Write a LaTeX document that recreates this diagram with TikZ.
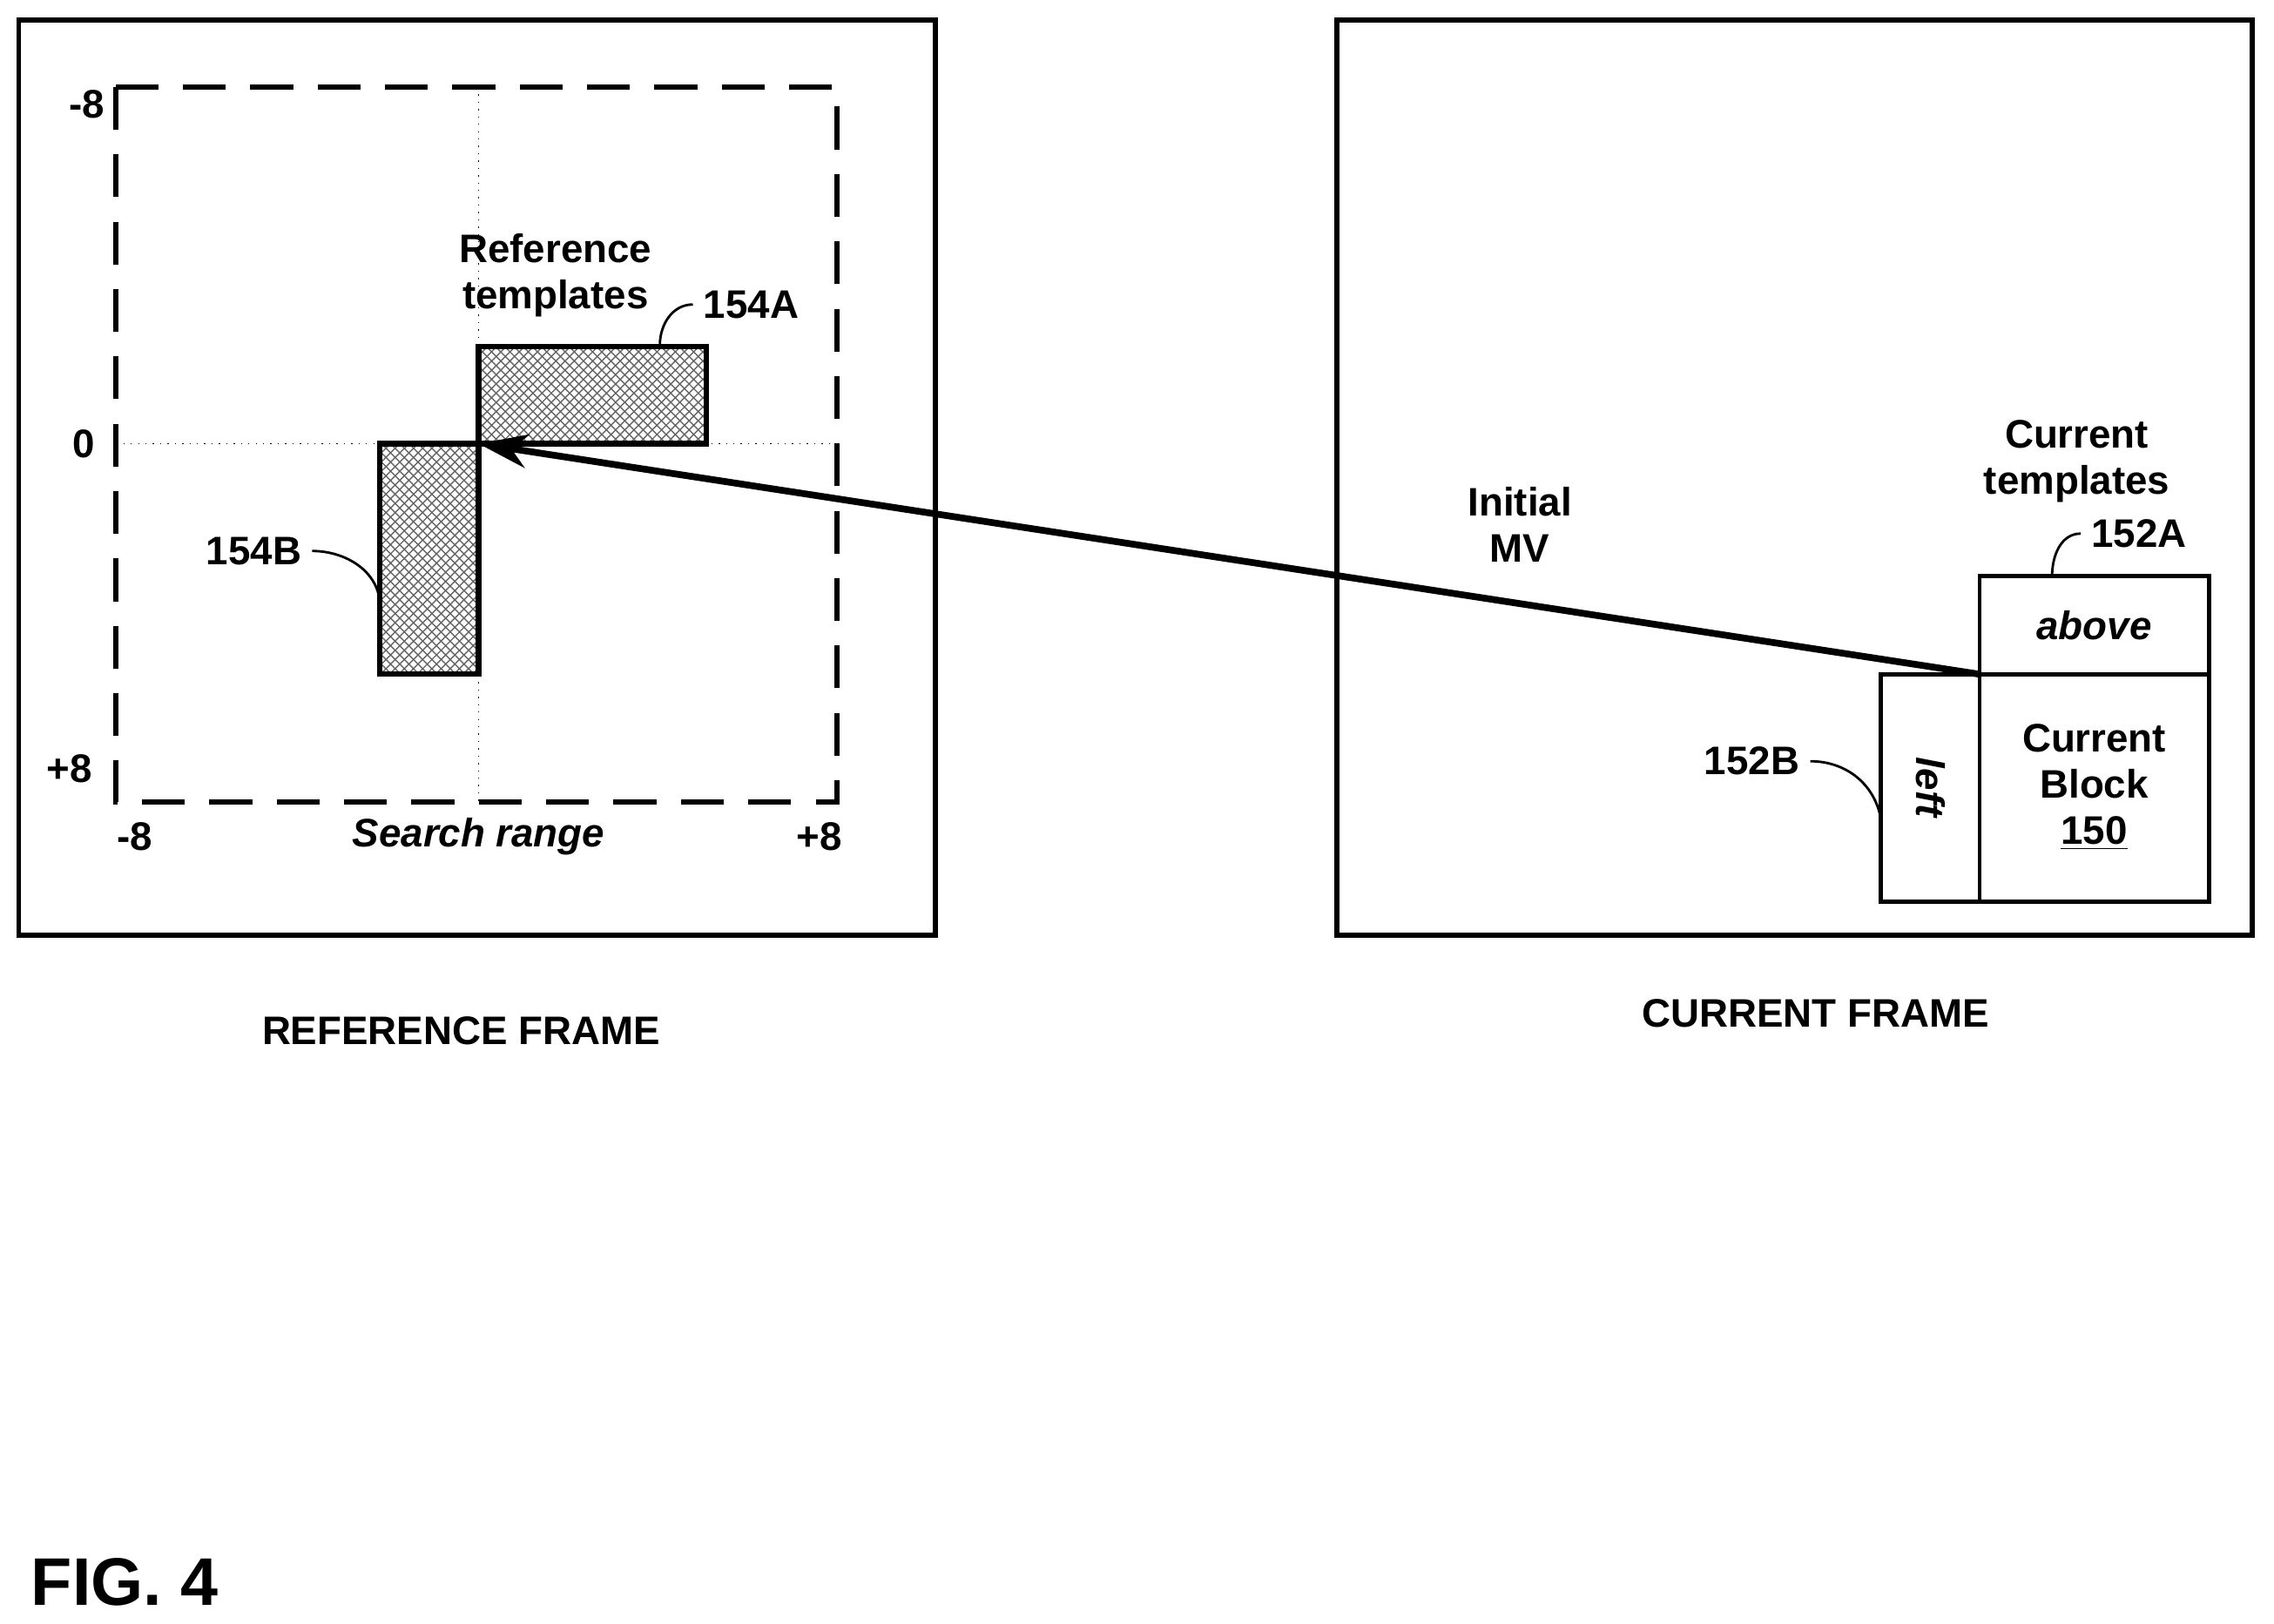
\documentclass[tikz,border=0pt]{standalone}
\usepackage{fontspec}
\setmainfont{Liberation Sans}
\usetikzlibrary{patterns,arrows.meta}
\tikzset{
  lbl/.style={font=\fontsize{13}{15}\selectfont\bfseries, align=center},
  frame/.style={line width=1.6pt},
  tmpl/.style={line width=1.8pt, pattern=crosshatch, pattern color=gray!80!black},
  blk/.style={line width=1.4pt},
  lead/.style={line width=0.8pt}
}
\begin{document}
\begin{tikzpicture}[x=0.01665cm, y=-0.01665cm]
				  \useasboundingbox (0,0) rectangle (1568,1120);
				  % reference frame
				  \draw[frame] (13,14) rectangle (645,645);
				  \draw[line width=1.8pt, dash pattern=on 14pt off 8pt] (80,60) rectangle (577,553);
				  \draw[dotted] (330,60) -- (330,553);
				  \draw[dotted] (80,306) -- (577,306);
				  \node[lbl] (ym) at (60,72) {-8};
				  \node[lbl] (y0) at (58,306) {0};
				  \node[lbl] (yp) at (48,530) {+8};
				  \node[lbl] (xm) at (93,577) {-8};
				  \node[lbl] (xp) at (565,577) {+8};
				  \node[lbl, font=\fontsize{13}{15}\selectfont\bfseries\itshape] (srange) at (330,577) {Search range};
				  \filldraw[tmpl] (330,239) rectangle (487,306);
				  \filldraw[tmpl] (262,306) rectangle (330,465);
				  \node[lbl] (reftmpl) at (383,190) {Reference\\templates};
				  \node[lbl] (l154A) at (518,210) {154A};
				  \node[lbl] (l154B) at (175,380) {154B};
				  \coordinate (a1) at (455,238);
				  \coordinate (b1) at (262,418);
				  \draw[lead] (a1) to[out=90, in=180] (l154A.west);
				  \draw[lead] (l154B.east) to[out=0, in=90] (b1);
				  \node[lbl] (refname) at (318,711) {REFERENCE FRAME};
				  % current frame
				  \draw[frame] (922,14) rectangle (1553,645);
				  \draw[blk] (1365,397) rectangle (1523,465);
				  \draw[blk] (1365,465) rectangle (1523,622);
				  \draw[blk] (1297,465) rectangle (1365,622);
				  \node[lbl, font=\fontsize{13}{15}\selectfont\bfseries\itshape] (above) at (1444,431) {above};
				  \node[lbl, font=\fontsize{13}{15}\selectfont\bfseries\itshape, rotate=-90] (left) at (1331,543) {left};
				  \node[lbl] (curblk) at (1444,543) {Current\\Block\\\underline{150}};
				  \node[lbl] (curtmpl) at (1432,318) {Current\\templates};
				  \node[lbl] (l152A) at (1475,368) {152A};
				  \node[lbl] (l152B) at (1208,525) {152B};
				  \coordinate (a2) at (1415,397);
				  \coordinate (b2) at (1297,565);
				  \draw[lead] (a2) to[out=90, in=180] (l152A.west);
				  \draw[lead] (l152B.east) to[out=0, in=100] (b2);
				  \node[lbl] (mv) at (1048,362) {Initial\\MV};
				  \coordinate (src) at (1365,465);
				  \coordinate (dst) at (330,306);
				  \draw[line width=2.2pt, -{Stealth[length=16pt, width=11pt]}] (src) -- (dst);
				  \node[lbl] (curname) at (1252,699) {CURRENT FRAME};
				  \node[font=\fontsize{22}{26}\selectfont\bfseries] (fig) at (86,1091) {FIG. 4};
				\end{tikzpicture}
\end{document}
